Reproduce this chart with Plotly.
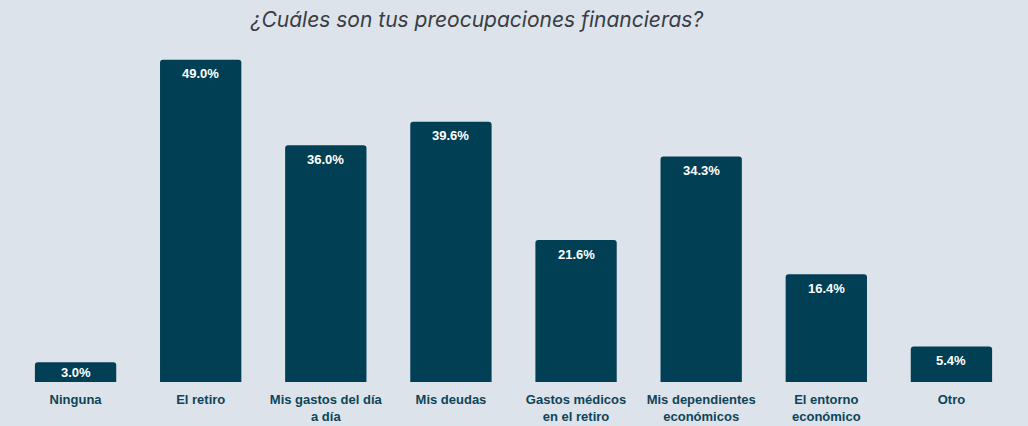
import plotly.graph_objects as go

categories = ["Ninguna", "El retiro", "Mis gastos del día<br>a día", "Mis deudas",
              "Gastos médicos<br>en el retiro", "Mis dependientes<br>económicos",
              "El entorno<br>económico", "Otro"]
values = [3.0, 49.0, 36.0, 39.6, 21.6, 34.3, 16.4, 5.4]
labels = [f"{v:.1f}%" for v in values]

bg = "#dde3ea"
bar_color = "#003f54"

y_max = 50.5
plot_h = 426 - 50 - 44
px_per_unit = plot_h / y_max

fig = go.Figure(go.Bar(
    x=list(range(len(categories))), y=values,
    marker=dict(color=bar_color, line=dict(width=0)),
    hoverinfo="skip",
))

annotations = []
for i, (v, lbl) in enumerate(zip(values, labels)):
    shift = min(14, v * px_per_unit / 2)
    annotations.append(dict(x=i, y=v, xref="x", yref="y", text=lbl, showarrow=False,
                            yshift=-shift, yanchor="middle",
                            font=dict(family="Liberation Sans, Arial", size=13, color="white", weight="bold")))

fig.update_layout(
    width=1028, height=426,
    paper_bgcolor=bg, plot_bgcolor=bg,
    margin=dict(l=13, r=14, t=50, b=44),
    bargap=0.35, barcornerradius=3,
    showlegend=False,
    annotations=annotations,
    title=dict(text="¿Cuáles son tus preocupaciones financieras?", x=0.464, xanchor="center",
               y=0.953, yanchor="middle",
               font=dict(family="Inter, Noto Sans, sans-serif", size=21, color="#383d44", style="italic")),
    xaxis=dict(tickmode="array", tickvals=list(range(len(categories))), ticktext=categories,
               range=[-0.5, len(categories) - 0.5], showgrid=False, zeroline=False, showline=False,
               tickfont=dict(family="Liberation Sans, Arial", size=13, color="#0e4458", weight="bold"),
               ticks="", ticklen=0, ticklabelstandoff=8, automargin=False),
    yaxis=dict(range=[0, y_max], visible=False, automargin=False),
)
fig.write_html("out.html", config={"displayModeBar": False},
               post_script="document.body.style.margin='0';document.body.style.overflow='hidden';document.body.style.background='#dde3ea';")
